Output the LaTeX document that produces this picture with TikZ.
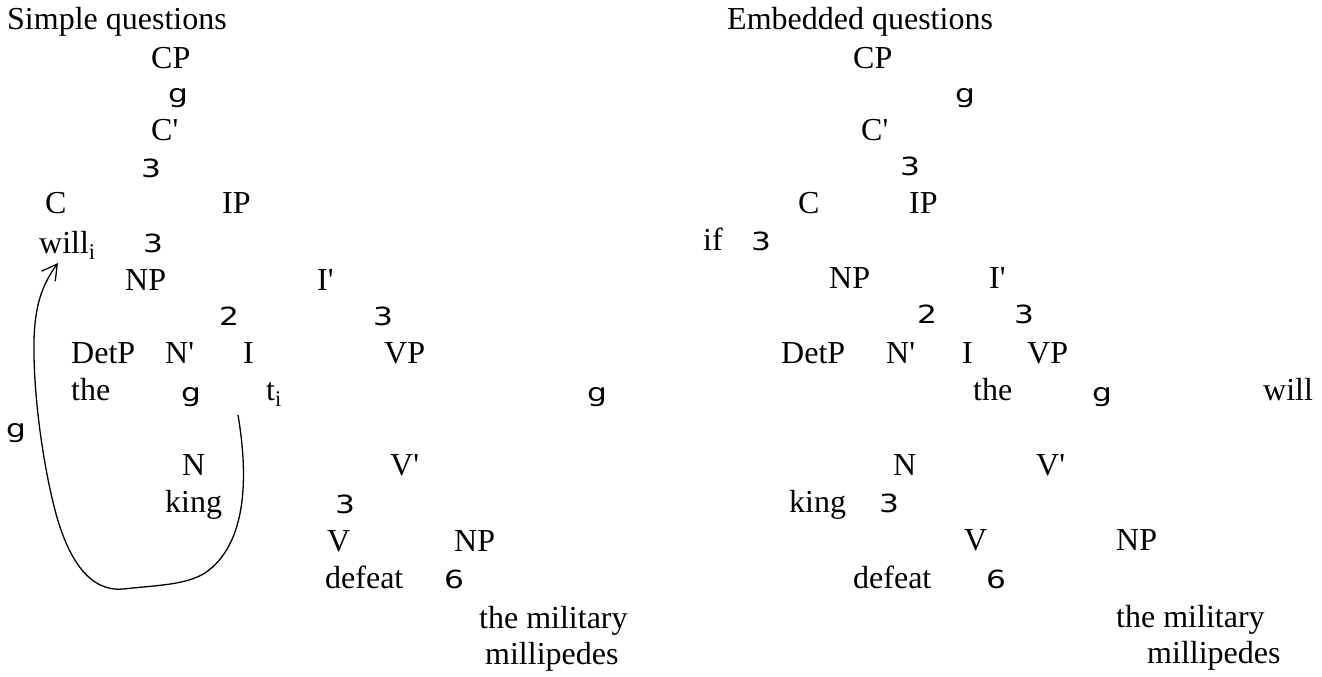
\documentclass[tikz,border=0pt]{standalone}
\usepackage{fontspec}
\usepackage{graphicx}
\usetikzlibrary{arrows.meta}
\setmainfont{Liberation Serif}[Ligatures=TeXOff]
\newfontfamily\treefont{DejaVu Sans}
\newcommand{\brglyph}[1]{\scalebox{1.25}[1]{#1}}
\tikzset{
  lbl/.style={anchor=base west,inner sep=0pt,font=\fontsize{32}{37}\selectfont},
  brk/.style={anchor=base west,inner sep=0pt,font=\treefont\fontsize{25}{29}\selectfont},
  move/.style={line width=1.3pt,-{Straight Barb[length=15pt,width=17pt]}}
}
\begin{document}
\begin{tikzpicture}[x=1pt,y=-1pt]
   \fill[white] (0,0) rectangle (1322,677);
   \useasboundingbox (0,0) rectangle (1322,677);
   \node[lbl] (titleA) at (7,30) {Simple questions};
   \node[lbl] (cpA) at (151,68) {CP};
   \node[brk] (gA1) at (168,102) {\brglyph{g}};
   \node[lbl] (cbarA) at (151,140) {C'};
   \node[brk] (tA1) at (141,177) {\brglyph{3}};
   \node[lbl] (cA) at (45,213) {C};
   \node[lbl] (ipA) at (222,213) {IP};
   \node[lbl] (willA) at (39,253) {will\textsubscript{i}};
   \node[brk] (tA2) at (143,252) {\brglyph{3}};
   \node[lbl] (npA) at (125,290) {NP};
   \node[lbl] (ibarA) at (317,290) {I'};
   \node[brk] (dA1) at (219,325) {\brglyph{2}};
   \node[brk] (tA3) at (373,325) {\brglyph{3}};
   \node[lbl] (detpA) at (71,363) {DetP};
   \node[lbl] (nbarA) at (165,363) {N'};
   \node[lbl] (iA) at (243,363) {I};
   \node[lbl] (vpA) at (384,363) {VP};
   \node[lbl] (theA) at (71,400) {the};
   \node[brk] (gA2) at (181,401) {\brglyph{g}};
   \node[lbl] (traceA) at (266,400) {t\textsubscript{i}};
   \node[brk] (gA3) at (587,401) {\brglyph{g}};
   \node[brk] (gA4) at (6,437) {\brglyph{g}};
   \node[lbl] (nA) at (182,475) {N};
   \node[lbl] (vbarA) at (390,475) {V'};
   \node[lbl] (kingA) at (165,512) {king};
   \node[brk] (tA4) at (335,513) {\brglyph{3}};
   \node[lbl] (vA) at (327,551) {V};
   \node[lbl] (np2A) at (454,551) {NP};
   \node[lbl] (defeatA) at (325,588) {defeat};
   \node[brk] (sA) at (444,588) {\brglyph{6}};
   \node[lbl] (milA) at (479,628) {the military};
   \node[lbl] (millA) at (485,664) {millipedes};
   \coordinate (from) at (238,415);
   \coordinate (to) at (58,263);
   \draw[move] (from) .. controls (249,480) and (246,545) .. (205,573)
      .. controls (185,585) and (160,585) .. (123,589)
      .. controls (90,592) and (68,560) .. (55,510)
      .. controls (42,460) and (33,390) .. (34,340)
      .. controls (35,305) and (42,285) .. (to);
   \node[lbl] (titleB) at (727,30) {Embedded questions};
   \node[lbl] (cpB) at (853,68) {CP};
   \node[brk] (gB1) at (955,102) {\brglyph{g}};
   \node[lbl] (cbarB) at (861,140) {C'};
   \node[brk] (tB1) at (900,175) {\brglyph{3}};
   \node[lbl] (cB) at (798,213) {C};
   \node[lbl] (ipB) at (909,213) {IP};
   \node[lbl] (ifB) at (703,250) {if};
   \node[brk] (tB2) at (751,250) {\brglyph{3}};
   \node[lbl] (npB) at (829,288) {NP};
   \node[lbl] (ibarB) at (989,288) {I'};
   \node[brk] (dB1) at (917,323) {\brglyph{2}};
   \node[brk] (tB3) at (1014,323) {\brglyph{3}};
   \node[lbl] (detpB) at (781,363) {DetP};
   \node[lbl] (nbarB) at (886,363) {N'};
   \node[lbl] (iB) at (962,363) {I};
   \node[lbl] (vpB) at (1027,363) {VP};
   \node[lbl] (theB) at (973,400) {the};
   \node[brk] (gB2) at (1092,401) {\brglyph{g}};
   \node[lbl] (willB) at (1263,400) {will};
   \node[lbl] (nB) at (893,475) {N};
   \node[lbl] (vbarB) at (1036,475) {V'};
   \node[lbl] (kingB) at (789,512) {king};
   \node[brk] (tB4) at (879,512) {\brglyph{3}};
   \node[lbl] (vB) at (964,550) {V};
   \node[lbl] (np2B) at (1116,550) {NP};
   \node[lbl] (defeatB) at (853,588) {defeat};
   \node[brk] (sB) at (986,588) {\brglyph{6}};
   \node[lbl] (milB) at (1116,627) {the military};
   \node[lbl] (millB) at (1147,663) {millipedes};
\end{tikzpicture}
\end{document}
